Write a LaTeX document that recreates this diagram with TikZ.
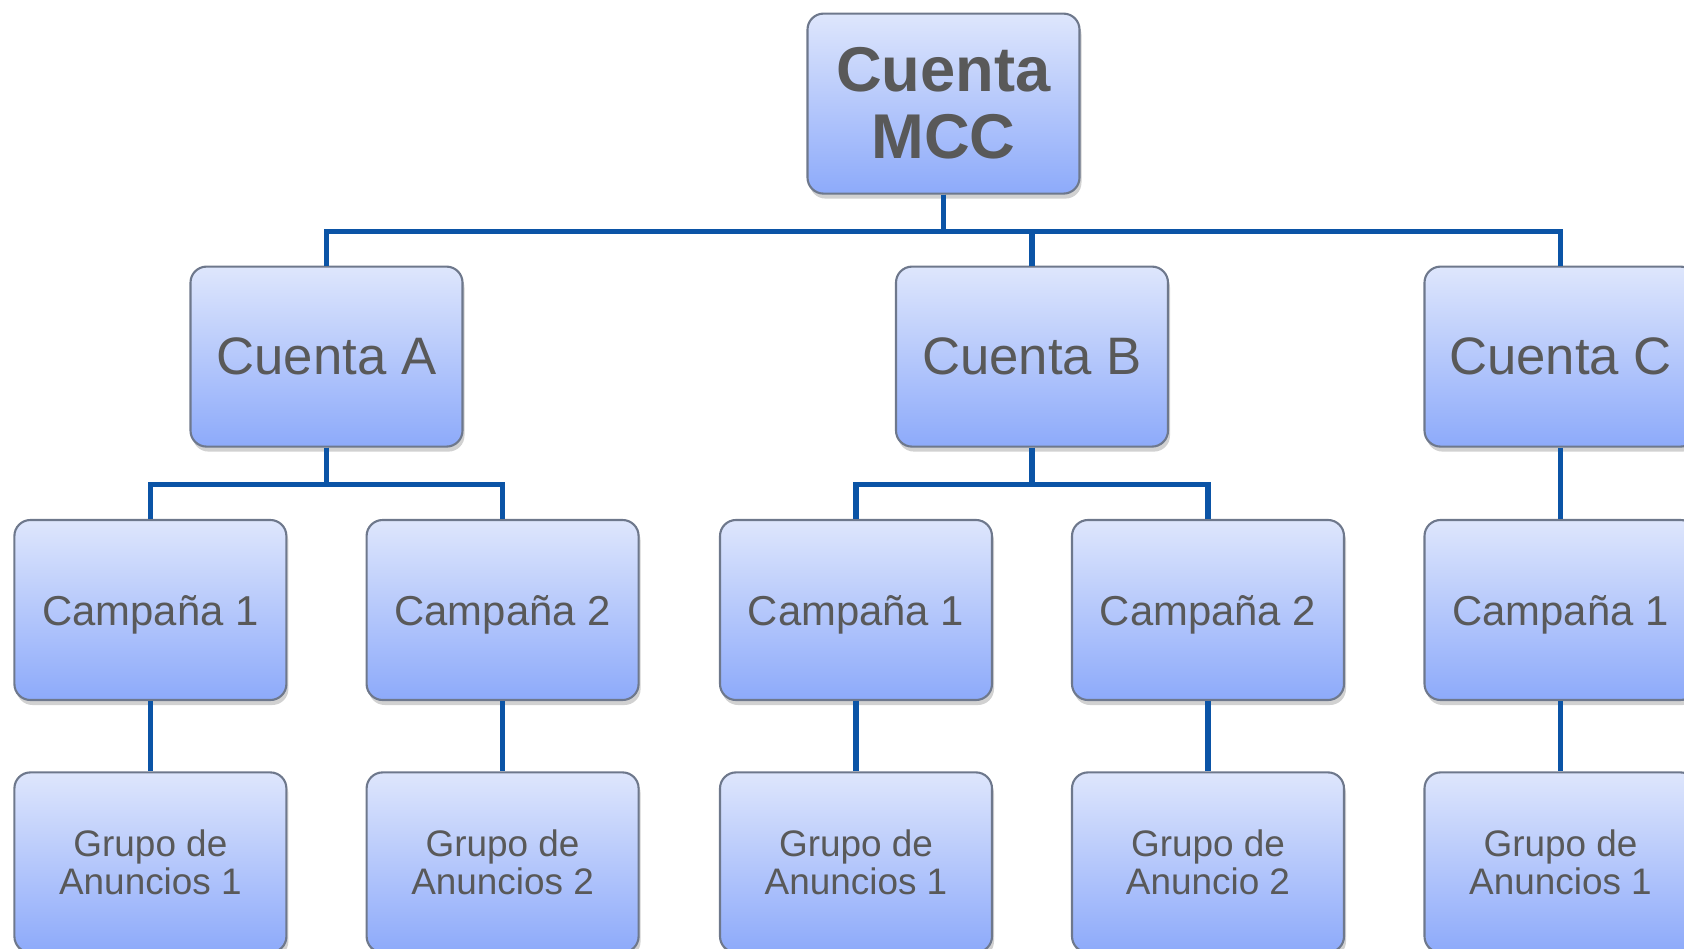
\documentclass[tikz,border=0pt]{standalone}
\usepackage{fontspec}
\setmainfont{Liberation Sans}
\usetikzlibrary{shadows}
\definecolor{boxtop}{RGB}{222,230,252}
\definecolor{boxbottom}{RGB}{141,170,250}
\definecolor{boxline}{RGB}{110,120,140}
\definecolor{boxtext}{RGB}{89,89,89}
\definecolor{connblue}{RGB}{11,84,166}
\tikzset{
  box/.style={draw=boxline, line width=0.6pt, rounded corners=1.6mm,
    minimum width=27.2mm, minimum height=18mm, inner sep=0pt,
    top color=boxtop, bottom color=boxbottom, text=boxtext, align=center,
    drop shadow={shadow xshift=0.2mm, shadow yshift=-0.5mm, opacity=0.18, fill=black}},
  topbox/.style={box, font=\fontsize{18}{19}\selectfont\bfseries},
  cuentabox/.style={box, font=\fontsize{15}{18}\selectfont},
  campbox/.style={box, text depth=0pt, font=\fontsize{11.9}{14}\selectfont},
  grupobox/.style={box, font=\fontsize{10.5}{10.7}\selectfont},
  conn/.style={draw=connblue, line width=1.5pt}
}
\begin{document}
\begin{tikzpicture}[x=0.1mm, y=-0.1mm]
  \useasboundingbox (0,0) rectangle (1684,949);
  \draw
    (943.5,103.6) node[topbox] (mcc){Cuenta\\MCC}
    (326.5,356.6) node[cuentabox] (ctaA){Cuenta A}
    (1032,356.6) node[cuentabox] (ctaB){Cuenta B}
    (1560.5,356.6) node[cuentabox] (ctaC){Cuenta C}
    (150.4,610) node[campbox] (campA1){Campaña 1}
    (502.6,610) node[campbox] (campA2){Campaña 2}
    (856,610) node[campbox] (campB1){Campaña 1}
    (1208,610) node[campbox] (campB2){Campaña 2}
    (1560.5,610) node[campbox] (campC1){Campaña 1}
    (150.4,862.4) node[grupobox] (grpA1){Grupo de\\Anuncios 1}
    (502.6,862.4) node[grupobox] (grpA2){Grupo de\\Anuncios 2}
    (856,862.4) node[grupobox] (grpB1){Grupo de\\Anuncios 1}
    (1208,862.4) node[grupobox] (grpB2){Grupo de\\Anuncio 2}
    (1560.5,862.4) node[grupobox] (grpC1){Grupo de\\Anuncios 1};
  \begin{scope}[conn]
    \draw (mcc.south) -- ++(0,37) -| (ctaA.north);
    \draw (mcc.south) -- ++(0,37) -| (ctaB.north);
    \draw (mcc.south) -- ++(0,37) -| (ctaC.north);
    \draw (ctaA.south) -- ++(0,37) -| (campA1.north);
    \draw (ctaA.south) -- ++(0,37) -| (campA2.north);
    \draw (ctaB.south) -- ++(0,37) -| (campB1.north);
    \draw (ctaB.south) -- ++(0,37) -| (campB2.north);
    \draw (ctaC) to (campC1);
    \draw (campA1) to (grpA1);
    \draw (campA2) to (grpA2);
    \draw (campB1) to (grpB1);
    \draw (campB2) to (grpB2);
    \draw (campC1) to (grpC1);
  \end{scope}
\end{tikzpicture}
\end{document}
